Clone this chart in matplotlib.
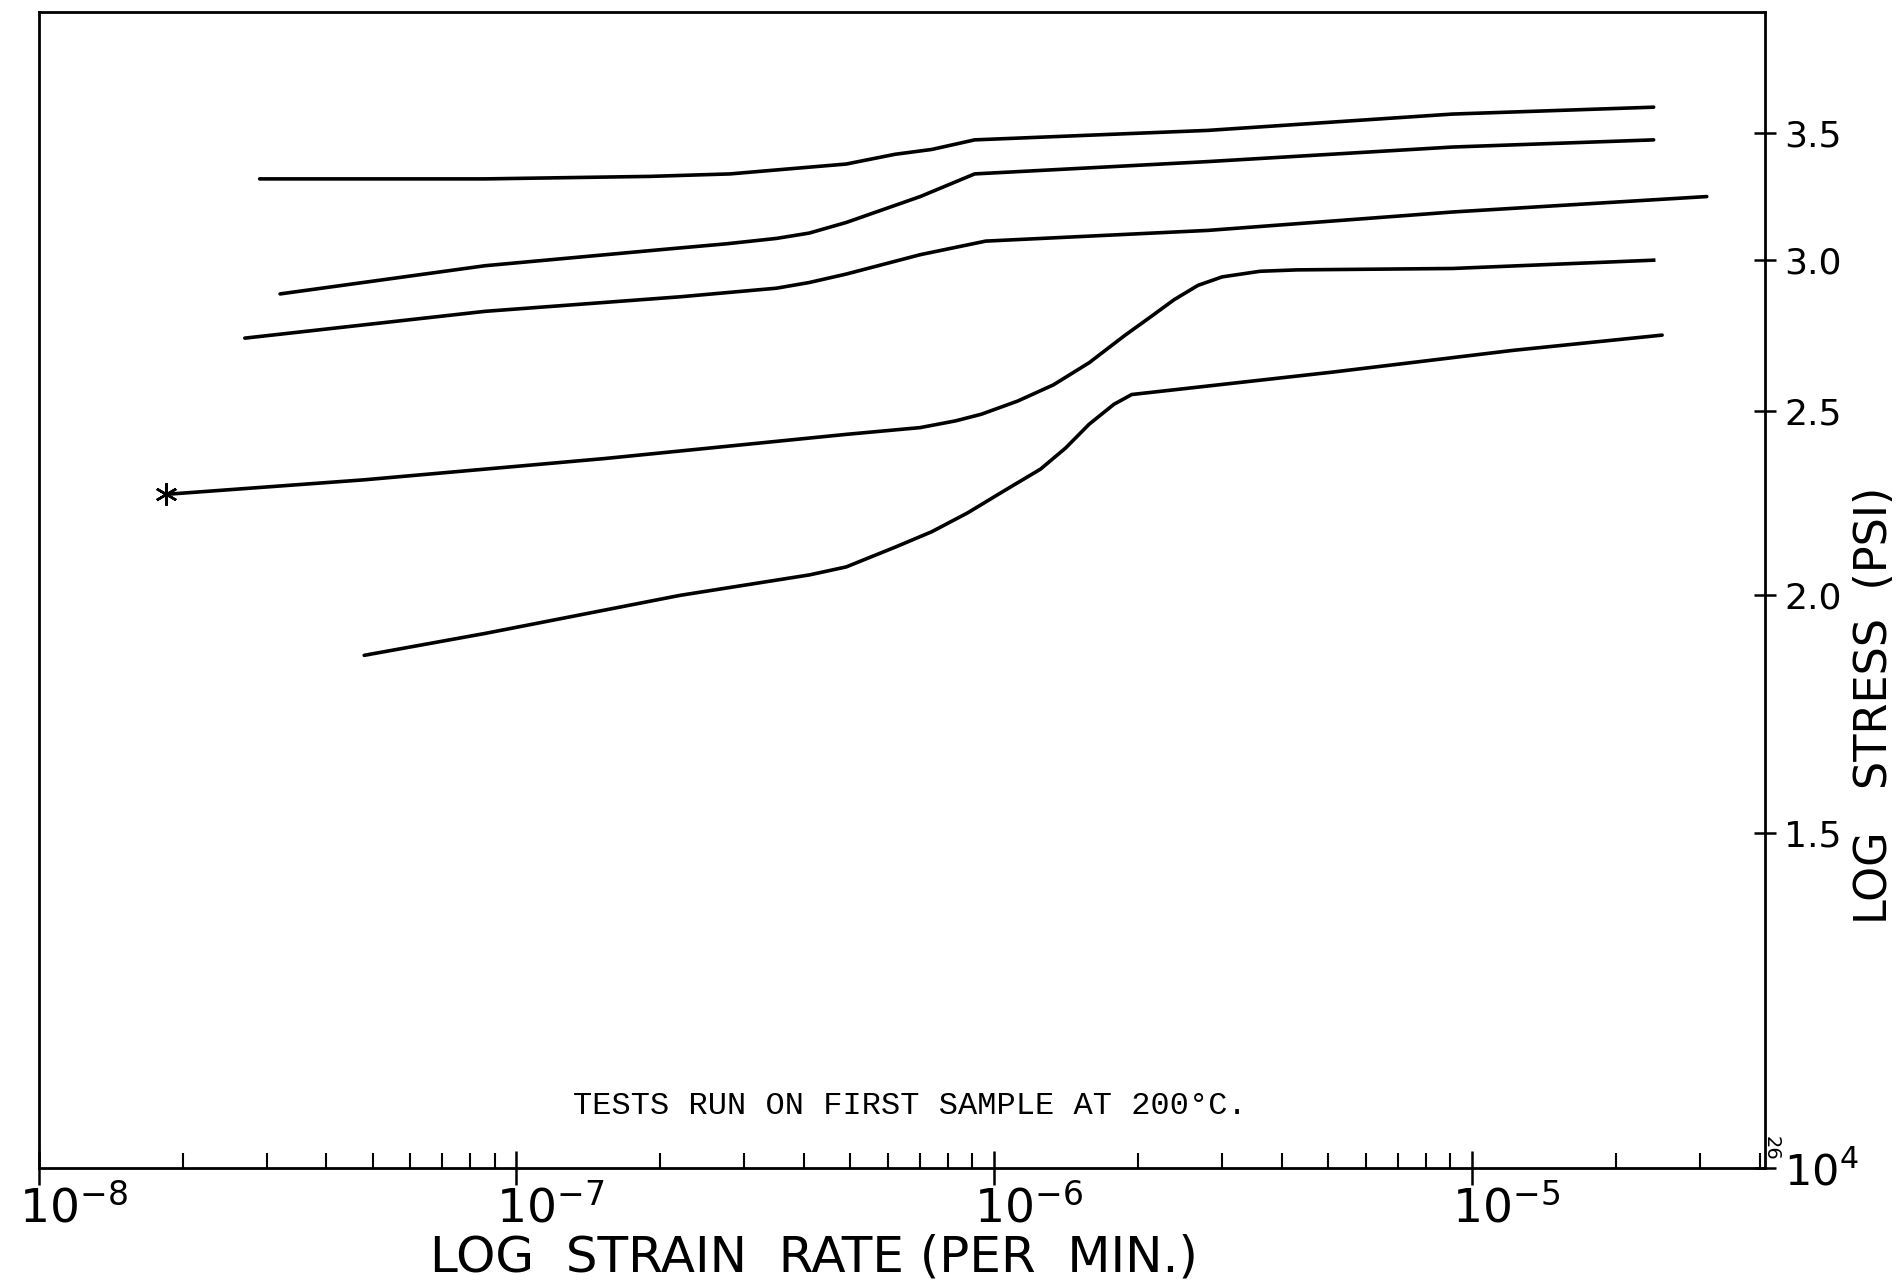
import matplotlib
matplotlib.use("Agg")
import matplotlib.pyplot as plt
import matplotlib.transforms as mtransforms
from matplotlib.ticker import LogLocator, NullFormatter

# strain rate (per min) / stress (x 10^4 psi)
x1 = [2.9e-8, 8.6e-8, 1.9e-7, 2.8e-7, 3.7e-7, 4.9e-7, 6.2e-7, 7.4e-7, 9.1e-7, 2.8e-6, 9.1e-6, 2.4e-5]
y1 = [3.31, 3.31, 3.32, 3.33, 3.35, 3.37, 3.41, 3.43, 3.47, 3.51, 3.58, 3.61]

x2 = [3.2e-8, 8.6e-8, 2.05e-7, 2.75e-7, 3.5e-7, 4.1e-7, 4.9e-7, 7.0e-7, 9.1e-7, 2.8e-6, 9.1e-6, 2.4e-5]
y2 = [2.88, 2.98, 3.04, 3.06, 3.08, 3.10, 3.14, 3.24, 3.33, 3.38, 3.44, 3.47]

x3 = [2.7e-8, 8.6e-8, 2.2e-7, 3.5e-7, 4.1e-7, 4.9e-7, 7.0e-7, 9.6e-7, 2.8e-6, 9.1e-6, 3.1e-5]
y3 = [2.73, 2.82, 2.87, 2.90, 2.92, 2.95, 3.02, 3.07, 3.11, 3.18, 3.24]

x4 = [1.85e-8, 4.8e-8, 1.53e-7, 4.9e-7, 7.0e-7, 8.3e-7, 9.4e-7, 1.12e-6, 1.33e-6, 1.58e-6,
      1.88e-6, 2.12e-6, 2.38e-6, 2.67e-6, 3.0e-6, 3.6e-6, 4.3e-6, 9.1e-6, 2.4e-5]
y4 = [2.26, 2.30, 2.36, 2.43, 2.45, 2.47, 2.49, 2.53, 2.58, 2.65,
      2.74, 2.80, 2.86, 2.91, 2.94, 2.96, 2.965, 2.97, 3.00]

x5 = [4.8e-8, 8.6e-8, 2.2e-7, 4.1e-7, 4.9e-7, 6.2e-7, 7.4e-7, 8.8e-7, 1.05e-6, 1.25e-6,
      1.41e-6, 1.58e-6, 1.78e-6, 1.94e-6, 5.1e-6, 1.22e-5, 2.5e-5]
y5 = [1.86, 1.91, 2.00, 2.05, 2.07, 2.12, 2.16, 2.21, 2.27, 2.33,
      2.39, 2.46, 2.52, 2.55, 2.62, 2.69, 2.74]

x_ticks = [1e-8, 1e-7, 1e-6, 1e-5]
x_labels = [r"$\mathregular{10^{-8}}$", r"$\mathregular{10^{-7}}$",
            r"$\mathregular{10^{-6}}$", r"$\mathregular{10^{-5}}$"]
y_ticks = [1.0, 1.5, 2.0, 2.5, 3.0, 3.5]
y_labels = [r"$\mathregular{10^{4}}$", "1.5", "2.0", "2.5", "3.0", "3.5"]

fig = plt.figure(figsize=(18.98, 12.87), dpi=100)
ax = fig.add_axes([0.0204, 0.0922, 0.9094, 0.8984])

lw = 2.6
for xs, ys in [(x1, y1), (x2, y2), (x3, y3), (x5, y5)]:
    ax.plot(xs, ys, c="black", lw=lw, solid_capstyle="round", solid_joinstyle="round")
ax.plot(x4, y4, c="black", lw=lw, solid_joinstyle="round", marker=(6, 2, 0),
        markersize=16, markeredgewidth=1.8, markevery=[0])

ax.set_xscale("log")
ax.set_yscale("log")
ax.set_xlim(1e-8, 4.1e-5)
ax.set_ylim(1.0, 4.05)

for s in ax.spines.values():
    s.set_linewidth(2.0)

ax.set_xticks(x_ticks, x_labels, fontsize=34)
ax.xaxis.set_minor_locator(LogLocator(base=10, subs=range(2, 10)))
ax.xaxis.set_minor_formatter(NullFormatter())
ax.tick_params(axis="x", which="major", direction="inout", length=24, width=1.8, pad=0)
ax.tick_params(axis="x", which="minor", direction="in", length=11, width=1.5)
shift = mtransforms.ScaledTranslation(-0.2, 0, fig.dpi_scale_trans)
for lab in ax.get_xticklabels():
    lab.set_horizontalalignment("left")
    lab.set_transform(lab.get_transform() + shift)

ax.yaxis.tick_right()
ax.set_yticks(y_ticks, y_labels, fontsize=26)
ax.get_yticklabels()[0].set_fontsize(31)
ax.yaxis.set_minor_formatter(NullFormatter())
ax.tick_params(axis="y", which="minor", length=0)
ax.tick_params(axis="y", which="major", direction="inout", length=16, width=1.8, pad=6)

ax.set_xlabel("LOG  STRAIN  RATE (PER  MIN.)", fontsize=36)
ax.xaxis.set_label_coords(0.449, -0.056)
ax.yaxis.set_label_position("right")
ax.set_ylabel("LOG   STRESS  (PSI)", fontsize=32, rotation=90)
ax.yaxis.set_label_coords(1.051, 0.40)

ax.text(0.505, 0.054, "TESTS RUN ON FIRST SAMPLE AT 200\u00b0C.", transform=ax.transAxes,
        ha="center", va="center", fontsize=23, family="Liberation Mono")
fig.text(0.933, 0.108, "26", rotation=-90, fontsize=14, ha="center", va="center")

plt.savefig("out.png", dpi=100)
